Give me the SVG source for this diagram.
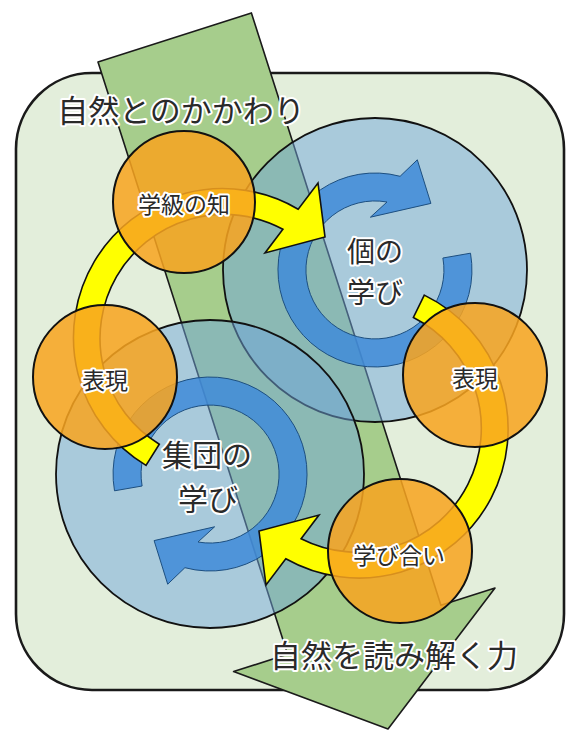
<svg xmlns="http://www.w3.org/2000/svg" width="568" height="731" viewBox="0 0 568 731">
<style>
.frame{fill:#e3eedb;stroke:#1a1a1a;stroke-width:2.6}
.band{fill:#a6cd8c;stroke:#1a1a1a;stroke-width:1.6;stroke-linejoin:round}
.bc{fill:#6fa6db;fill-opacity:0.5;stroke:#111;stroke-width:1.8}
.ba{fill:#3f8bd8;fill-opacity:0.85;stroke:#1d4f80;stroke-width:1}
.ya{fill:#ffff00;stroke:#111;stroke-width:1.6;stroke-linejoin:miter}
.oc{fill:#f8a420;fill-opacity:0.86;stroke:#111;stroke-width:2}
text{font-family:"Noto Sans CJK JP","Noto Sans CJK SC",sans-serif;fill:#2a2a2a;stroke:#fff;stroke-width:4;stroke-linejoin:round;paint-order:stroke;text-anchor:middle;dominant-baseline:central}
.big{font-size:31px}
.grp{font-size:30px}
.mid{font-size:28px}
.sm{font-size:23px}
</style>
<defs>
<path id="blueArrow" d="M95.5,-16.8 A97,97 0 1 1 25.1,-93.7 L42.3,-110.2 L55.9,-66.6 L-4.6,-52.8 L12,-68 A69,69 0 1 0 67.9,-12 Z"/>
</defs>
<g id="frame">
<rect class="frame" x="16" y="73" width="548" height="617" rx="76" ry="76"/>
</g>
<g id="band-nature">
<polygon class="band" points="98,62 251.4,12.9 440.9,605.3 495,588 388,729 233.6,671.6 287.6,654.3"/>
</g>
<g id="node-individual">
<circle class="bc" cx="375" cy="270" r="152"/>
<use href="#blueArrow" class="ba" transform="translate(375,270)"/>
<text class="mid"><tspan x="375" y="250">個の</tspan><tspan x="375" dy="41">学び</tspan></text>
</g>
<g id="node-group">
<circle class="bc" cx="210" cy="474" r="154"/>
<use href="#blueArrow" class="ba" transform="translate(210,474) rotate(180)"/>
<text class="grp"><tspan x="207" y="453">集団の</tspan><tspan x="208" dy="44">学び</tspan></text>
</g>
<g id="connectors">
<path class="ya" d="M146,465.4 A149,149 0 0 1 298.2,209.2 L318,183 L325,237 L265,253 L282.9,229.3 A124,124 0 0 0 159.3,444.2 Z"/>
<path class="ya" transform="rotate(180 292 384)" d="M159.7,472.9 A149,149 0 1 1 298.2,209.2 L318,183 L325,237 L265,253 L282.9,229.3 A124,124 0 1 0 170.6,450.5 Z"/>
</g>
<g id="node-class-knowledge">
<circle class="oc" cx="184" cy="202" r="71"/>
<text class="sm" x="184" y="203">学級の知</text>
</g>
<g id="node-expression-left">
<circle class="oc" cx="105" cy="377" r="72"/>
<text class="sm" x="105" y="379">表現</text>
</g>
<g id="node-expression-right">
<circle class="oc" cx="475" cy="375" r="72"/>
<text class="sm" x="475" y="377">表現</text>
</g>
<g id="node-mutual-learning">
<circle class="oc" cx="400" cy="551" r="72"/>
<text class="sm" x="399" y="554">学び合い</text>
</g>
<g id="labels">
<text class="big" x="181" y="108">自然とのかかわり</text>
<text class="big" x="394" y="653">自然を読み解く力</text>
</g>
</svg>
